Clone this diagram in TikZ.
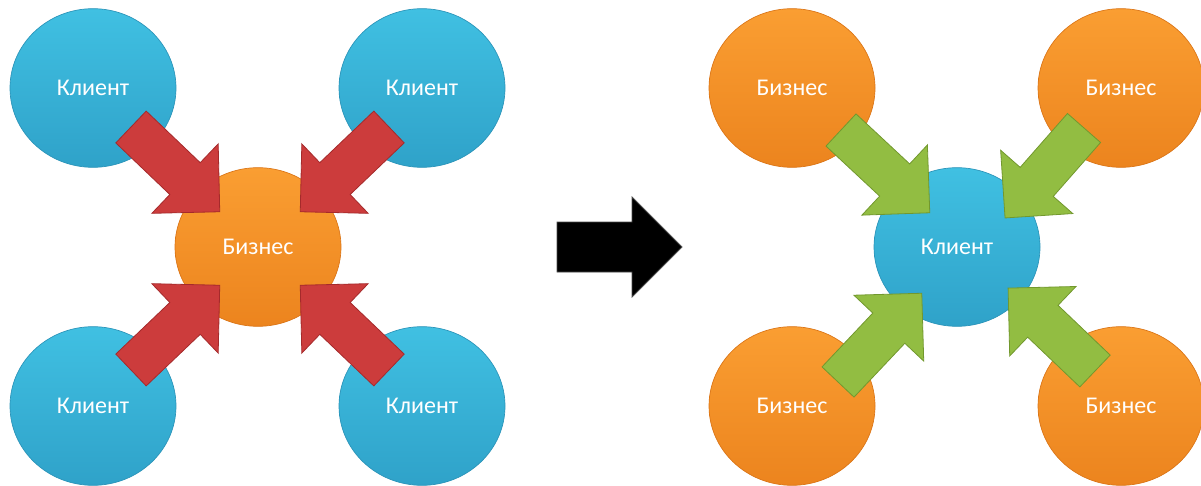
\documentclass[tikz,border=0pt]{standalone}
\usepackage{fontspec}
\setmainfont{Carlito}
\usetikzlibrary{calc,shapes.geometric}
\definecolor{bluetop}{HTML}{40C0E2}
\definecolor{bluebot}{HTML}{2FA2C9}
\definecolor{bluerim}{HTML}{2A93B8}
\definecolor{orangetop}{HTML}{FA9E32}
\definecolor{orangebot}{HTML}{EC841E}
\definecolor{orangerim}{HTML}{DA7416}
\definecolor{redmain}{HTML}{CC3C3C}
\definecolor{redrim}{HTML}{A52A2B}
\definecolor{greenmain}{HTML}{92BD42}
\definecolor{greenrim}{HTML}{72982E}
\newcommand\fatarrow[3]{%
  \path let \p1=($(#2)-(#1)$) in \pgfextra{%
    \pgfmathsetmacro\ArAngTmp{atan2(\y1,\x1)}\xdef\ArAng{\ArAngTmp}%
    \pgfmathsetmacro\ArLenTmp{veclen(\x1,\y1)}\xdef\ArLen{\ArLenTmp}};
  \pgfmathsetmacro\ArB{\ArLen-36}
  \begin{scope}[shift={(#1)},rotate=\ArAng]
    \path[#3] (0pt,-16.5pt) -- (\ArB pt,-16.5pt) -- (\ArB pt,-36pt) -- (\ArLen pt,0pt)
      -- (\ArB pt,36pt) -- (\ArB pt,16.5pt) -- (0pt,16.5pt) -- cycle;
  \end{scope}}
\begin{document}
\begin{tikzpicture}[x=0.75pt,y=-0.75pt,
  bubble/.style={ellipse,minimum width=124.5pt,minimum height=119pt,inner sep=0pt,
    text=white,font=\fontsize{18}{21}\selectfont,line width=0.5pt},
  klient/.style={bubble,top color=bluetop,bottom color=bluebot,draw=bluerim},
  biznes/.style={bubble,top color=orangetop,bottom color=orangebot,draw=orangerim},
  red/.style={fill=redmain,draw=redrim,line width=0.6pt,line join=miter},
  green/.style={fill=greenmain,draw=greenrim,line width=0.6pt,line join=miter}]
\useasboundingbox (0,0) rectangle (1201,485);
% left diagram
\node[klient] (lc1) at (93,88) {Клиент};
\node[klient] (lc2) at (422,88) {Клиент};
\node[klient] (lc3) at (93,406) {Клиент};
\node[klient] (lc4) at (422,406) {Клиент};
\node[biznes] (lb) at (258,247) {Бизнес};
% right diagram
\node[biznes] (rb1) at (792,88) {Бизнес};
\node[biznes] (rb2) at (1121,88) {Бизнес};
\node[biznes] (rb3) at (792,406) {Бизнес};
\node[biznes] (rb4) at (1121,406) {Бизнес};
\node[klient] (rk) at (957,247) {Клиент};
% arrow end points
\coordinate (ra1) at ($(lc1)+(38,39)$);  \coordinate (rt1) at ($(lb)+(-38,-35)$);
\coordinate (ra2) at ($(lc2)+(-33,39)$); \coordinate (rt2) at ($(lb)+(42,-35)$);
\coordinate (ra3) at ($(lc3)+(38,-36)$); \coordinate (rt3) at ($(lb)+(-38,38)$);
\coordinate (ra4) at ($(lc4)+(-33,-36)$);\coordinate (rt4) at ($(lb)+(42,38)$);
\coordinate (ga1) at ($(rb1)+(49,42)$);  \coordinate (gt1) at ($(rk)+(-27,-34)$);
\coordinate (ga2) at ($(rb2)+(-37,40)$); \coordinate (gt2) at ($(rk)+(48,-29)$);
\coordinate (ga3) at ($(rb3)+(46,-24)$); \coordinate (gt3) at ($(rk)+(-35,46)$);
\coordinate (ga4) at ($(rb4)+(-26,-35)$);\coordinate (gt4) at ($(rk)+(51,41)$);
\fatarrow{ra1}{rt1}{red}
\fatarrow{ra2}{rt2}{red}
\fatarrow{ra3}{rt3}{red}
\fatarrow{ra4}{rt4}{red}
\fatarrow{ga1}{gt1}{green}
\fatarrow{ga2}{gt2}{green}
\fatarrow{ga3}{gt3}{green}
\fatarrow{ga4}{gt4}{green}
% big black arrow
\fill[black,draw=black!70,line width=0.6pt] (557,222) -- (632,222) -- (632,197) -- (682,247)
  -- (632,297) -- (632,272) -- (557,272) -- cycle;
\end{tikzpicture}
\end{document}
